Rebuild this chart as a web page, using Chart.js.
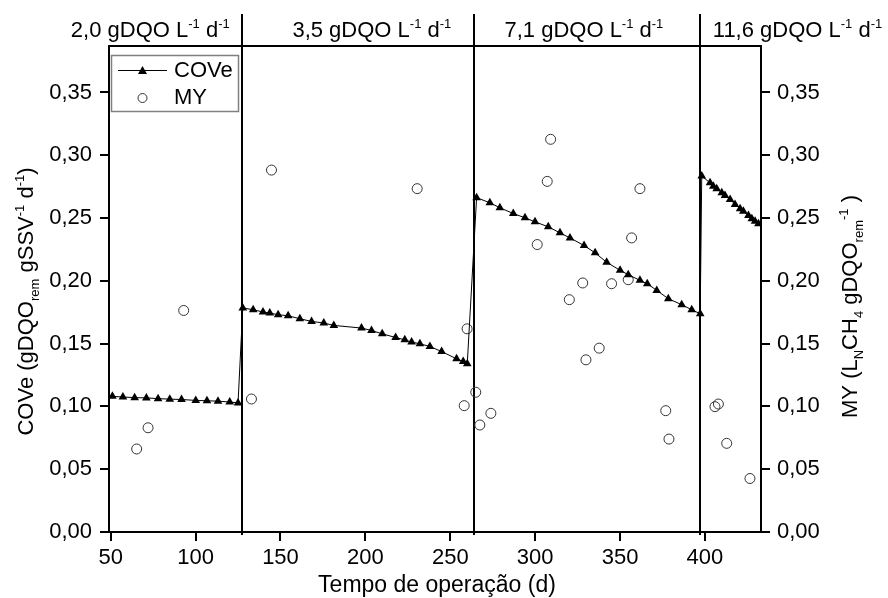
<!DOCTYPE html>
<html>
<head>
<meta charset="utf-8">
<script src="https://cdn.jsdelivr.net/npm/chart.js@4.4.0/dist/chart.umd.min.js"></script>
<style>
  html, body { margin: 0; padding: 0; background: #fff; }
  #wrap { width: 888px; height: 598px; }
</style>
</head>
<body>
<div id="wrap"><canvas id="chart" width="888" height="598"></canvas></div>
<script>
// ---- DATA ----
const coveDays = [51, 57.2, 64.1, 71, 77.9, 84.8, 91.7, 100.1, 106.7, 113.2, 120.1, 125,
  127.8, 133.9, 139.7, 143.7, 148.6, 154.5, 161.4, 168.3, 175.5, 181.4, 197.7, 203.6, 209.9, 217.8,
  223.2, 227.2, 232.1, 238, 244.9, 253.7, 257.6, 260,
  265.5, 273.3, 279.2, 287.1, 294, 299.9, 307.7, 314.6, 320.5, 328.8, 335.3, 342.1, 350, 354.8,
  361.7, 366, 371.6, 378.4, 386.3, 392.2, 397.2,
  398.1, 403, 404.9, 406.9, 409.9, 411.8, 414.8, 417.7, 420.7, 422.6, 425.6, 427.6, 429.5, 431.5];
const coveValues = [0.108, 0.1075, 0.107, 0.1068, 0.1062, 0.1058, 0.1055, 0.1048, 0.1045, 0.1042, 0.1035, 0.1028,
  0.1784, 0.177, 0.1752, 0.1744, 0.173, 0.1722, 0.1698, 0.1677, 0.1664, 0.1645, 0.1624, 0.1605, 0.1578, 0.1549,
  0.153, 0.1512, 0.1499, 0.1477, 0.1437, 0.1379, 0.1357, 0.1339,
  0.2662, 0.2622, 0.2582, 0.2536, 0.2502, 0.247, 0.243, 0.2382, 0.2342, 0.2281, 0.2223, 0.2148, 0.2084, 0.2049,
  0.2004, 0.1977, 0.1924, 0.1858, 0.181, 0.177, 0.1738,
  0.2834, 0.2781, 0.2754, 0.2734, 0.2702, 0.268, 0.2648, 0.2608, 0.2574, 0.2555, 0.252, 0.2494, 0.2475, 0.2454];

const myDays = [65.3, 72, 93, 132.9, 144.7, 230.5, 258.2, 259.9, 265, 267.4, 273.9,
  301.2, 307.1, 309.1, 320.1, 328, 329.9, 337.7, 345, 354.8, 356.8, 361.7, 376.9, 378.8,
  405.9, 407.9, 412.8, 426.5];
const myValues = [0.0661, 0.083, 0.1764, 0.1059, 0.2882, 0.2734, 0.1006, 0.1618, 0.1113, 0.0852, 0.0945,
  0.2289, 0.2792, 0.3127, 0.185, 0.1983, 0.1371, 0.1464, 0.1977, 0.2009, 0.2342, 0.2734, 0.0966, 0.074,
  0.0998, 0.1019, 0.0706, 0.0426];

const xTicks = [50, 100, 150, 200, 250, 300, 350, 400];
const yTicks = [0, 0.05, 0.10, 0.15, 0.20, 0.25, 0.30, 0.35];
const yTickLabels = ['0,00', '0,05', '0,10', '0,15', '0,20', '0,25', '0,30', '0,35'];

// phase boundaries (days) and organic load labels
const phaseBounds = [127.4, 264, 397.2];
const phaseLoads = ['2,0', '3,5', '7,1', '11,6'];
const phaseLabelDays = [73.3, 203.8, 328.7, 454.5];

// ---- STYLE ----
const ink = '#000';
const FONT = "'Liberation Sans', Arial, sans-serif";
const fBig = '22px ' + FONT;
const fSmall = '13px ' + FONT;

// rich text helper: parts = [[text, kind]] kind 0 normal, 1 sub, 2 sup
function richWidth(ctx, parts) {
  let w = 0;
  parts.forEach(([t, k]) => { ctx.font = k ? fSmall : fBig; w += ctx.measureText(t).width; });
  return w;
}
function drawRich(ctx, parts, x, y, align) {
  let cx = align === 'center' ? x - richWidth(ctx, parts) / 2 : x;
  ctx.textBaseline = 'alphabetic';
  ctx.textAlign = 'left';
  parts.forEach(([t, k]) => {
    ctx.font = k ? fSmall : fBig;
    const dy = k === 1 ? 6 : (k === 2 ? -9 : 0);
    ctx.fillText(t, cx, y + dy);
    cx += ctx.measureText(t).width;
  });
}

const decor = {
  id: 'decor',
  beforeDatasetsDraw(chart) {
    const { ctx, chartArea: a, scales } = chart;
    ctx.save();
    ctx.strokeStyle = ink;
    ctx.lineWidth = 2;
    // top frame
    ctx.beginPath();
    ctx.moveTo(a.left, a.top);
    ctx.lineTo(a.right, a.top);
    ctx.stroke();
    // phase separators
    phaseBounds.forEach(b => {
      const x = Math.round(scales.x.getPixelForValue(b));
      ctx.beginPath();
      ctx.moveTo(x, 14);
      ctx.lineTo(x, a.bottom + 3);
      ctx.stroke();
    });
    ctx.restore();
  },
  afterDraw(chart) {
    const { ctx, chartArea: a, scales } = chart;
    ctx.save();
    ctx.fillStyle = ink;
    // phase labels
    phaseLoads.forEach((load, i) => {
      const x = scales.x.getPixelForValue(phaseLabelDays[i]);
      drawRich(ctx, [[load + ' gDQO L', 0], ['-1', 2], [' d', 0], ['-1', 2]], x, 37, 'center');
    });
    // legend
    ctx.strokeStyle = '#808080';
    ctx.lineWidth = 1.5;
    ctx.strokeRect(111.5, 55.5, 127, 56);
    ctx.strokeStyle = ink;
    ctx.lineWidth = 1;
    ctx.beginPath();
    ctx.moveTo(118, 70.5);
    ctx.lineTo(167, 70.5);
    ctx.stroke();
    ctx.beginPath();
    ctx.moveTo(142.5, 66);
    ctx.lineTo(147, 74);
    ctx.lineTo(138, 74);
    ctx.closePath();
    ctx.fill();
    ctx.strokeStyle = '#333';
    ctx.beginPath();
    ctx.arc(142.5, 98, 4.5, 0, Math.PI * 2);
    ctx.stroke();
    ctx.font = fBig;
    ctx.textBaseline = 'middle';
    ctx.textAlign = 'left';
    ctx.fillText('COVe', 174, 71);
    ctx.fillText('MY', 174, 98);
    // x title
    ctx.font = '23px ' + FONT;
    ctx.textAlign = 'center';
    ctx.textBaseline = 'alphabetic';
    ctx.fillText('Tempo de operação (d)', 437, 592);
    // left title
    ctx.save();
    ctx.translate(33, 301.5);
    ctx.rotate(-Math.PI / 2);
    drawRich(ctx, [['COVe (gDQO', 0], ['rem', 1], [' gSSV', 0], ['-1', 2], [' d', 0], ['-1', 2], [')', 0]], 0, 0, 'center');
    ctx.restore();
    // right title
    ctx.save();
    ctx.translate(857, 306.5);
    ctx.rotate(-Math.PI / 2);
    drawRich(ctx, [['MY (L', 0], ['N', 1], ['CH', 0], ['4', 1], [' gDQO', 0], ['rem', 1], ['-1', 2], [' )', 0]], 0, 0, 'center');
    ctx.restore();
    ctx.restore();
  }
};

const axisCommon = {
  grid: { drawOnChartArea: false, drawTicks: true, tickLength: 9, color: ink, lineWidth: 2 },
  border: { display: true, color: ink, width: 2 },
};

new Chart(document.getElementById('chart'), {
  type: 'scatter',
  data: {
    datasets: [
      {
        label: 'COVe',
        data: coveDays.map((d, i) => ({ x: d, y: coveValues[i] })),
        showLine: true,
        borderColor: ink,
        borderWidth: 1,
        pointStyle: 'triangle',
        pointRadius: 5,
        pointBackgroundColor: ink,
        pointBorderWidth: 0,
        yAxisID: 'y',
      },
      {
        label: 'MY',
        data: myDays.map((d, i) => ({ x: d, y: myValues[i] })),
        pointStyle: 'circle',
        pointRadius: 5,
        pointBackgroundColor: 'rgba(0,0,0,0)',
        pointBorderColor: '#333',
        pointBorderWidth: 1,
        yAxisID: 'y2',
      }
    ]
  },
  options: {
    responsive: false,
    animation: false,
    devicePixelRatio: 1,
    layout: { padding: { top: 46, left: 0, right: 0, bottom: 0 } },
    plugins: { legend: { display: false }, tooltip: { enabled: false } },
    scales: {
      x: {
        type: 'linear', min: 49, max: 433,
        ...axisCommon,
        afterBuildTicks: s => { s.ticks = xTicks.map(v => ({ value: v })); },
        afterFit: s => { s.height = 66; },
        ticks: { color: ink, font: { family: FONT, size: 22 }, padding: 4, maxRotation: 0, callback: v => String(v) },
      },
      y: {
        position: 'left', min: 0, max: 0.387,
        ...axisCommon,
        afterBuildTicks: s => { s.ticks = yTicks.map(v => ({ value: v })); },
        afterFit: s => { s.width = 109; },
        ticks: { color: ink, font: { family: FONT, size: 22 }, padding: 8, callback: (v, i) => yTickLabels[i] },
      },
      y2: {
        position: 'right', min: 0, max: 0.387,
        ...axisCommon,
        afterBuildTicks: s => { s.ticks = yTicks.map(v => ({ value: v })); },
        afterFit: s => { s.width = 127; },
        ticks: { color: ink, font: { family: FONT, size: 22 }, padding: 7, callback: (v, i) => yTickLabels[i] },
      }
    }
  },
  plugins: [decor]
});
</script>
</body>
</html>
